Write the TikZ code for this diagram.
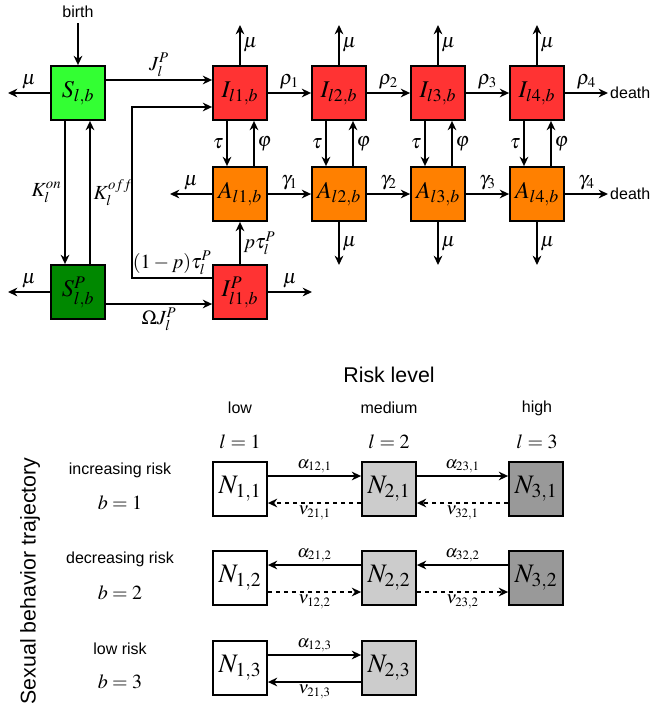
\documentclass[tikz,border=0pt]{standalone}
\usepackage{mathptmx}
\usepackage[no-math]{fontspec}
\setmainfont{Liberation Sans}
\usepackage{xcolor}
\usetikzlibrary{positioning, arrows.meta, calc}

\definecolor{sgreen}{RGB}{51,255,51}
\definecolor{sdkgreen}{RGB}{0,136,0}
\definecolor{ired}{RGB}{255,51,51}
\definecolor{aorange}{RGB}{255,128,0}
\definecolor{nmid}{RGB}{204,204,204}
\definecolor{nhigh}{RGB}{153,153,153}

\begin{document}
\begin{tikzpicture}[x=0.75pt, y=-0.75pt, line width=1.35pt,
  >={Stealth[length=7pt, width=6.5pt]},
  comp/.style={draw, line width=1.35pt, minimum size=40.5pt, inner sep=0pt,
    font=\fontsize{18}{20}\selectfont},
  nbox/.style={comp, font=\fontsize{20}{22}\selectfont},
  lab/.style={font=\fontsize{15}{17}\selectfont, inner sep=2pt},
  slab/.style={font=\fontsize{13}{15}\selectfont, inner sep=1.5pt},
  txt/.style={font=\fontsize{12}{14}\selectfont},
  big/.style={font=\fontsize{16}{18}\selectfont},
  mth/.style={font=\fontsize{15}{17}\selectfont}]
  \useasboundingbox (0,0) rectangle (651,708);

  % Modell: Empfaengliche
  \node[comp, fill=sgreen]   (S)  at (78,93)   {$S_{l,b}$};
  \node[comp, fill=sdkgreen] (SP) at (78,292)  {$S^P_{l,b}$};
  \node[comp, fill=ired]     (IP) at (240,292) {$I^P_{l1,b}$};
  \node[txt] (birth) at (78,12) {birth};

  % Infizierte und ART, vier Stadien
  \foreach \k/\xx in {1/240,2/339,3/438,4/537} {
    \node[comp, fill=ired]    (I\k) at (\xx,93)  {$I_{l\k,b}$};
    \node[comp, fill=aorange] (A\k) at (\xx,194) {$A_{l\k,b}$};
    \coordinate (muI\k) at (\xx,25);
    \draw[->] (I\k) -- node[lab, right] {$\mu$} (muI\k);
    \draw[->] ($(I\k.south)+(-13,0)$) -- node[lab, left] {$\tau$} ($(A\k.north)+(-13,0)$);
    \draw[->] ($(A\k.north)+(14,0)$) -- node[lab, right] {$\varphi$} ($(I\k.south)+(14,0)$);
  }
  \foreach \k in {2,3,4} {
    \coordinate (muA\k) at (A\k |- 0,265);
    \draw[->] (A\k) -- node[lab, right] {$\mu$} (muA\k);
  }
  \foreach \k in {1,2,3} {
    \pgfmathtruncatemacro{\nx}{\k+1}
    \draw[->] (I\k) -- node[lab, above] {$\rho_{\k}$} (I\nx);
    \draw[->] (A\k) -- node[lab, above] {$\gamma_{\k}$} (A\nx);
  }
  \node[txt, anchor=west, inner sep=1pt] (death1) at (608,93)  {death};
  \node[txt, anchor=west, inner sep=1pt] (death2) at (608,194) {death};
  \draw[->] (I4) -- node[lab, above] {$\rho_4$} (death1);
  \draw[->] (A4) -- node[lab, above] {$\gamma_4$} (death2);

  % Sterblichkeit links
  \coordinate (muS)  at (8,93);
  \coordinate (muSP) at (8,292);
  \coordinate (muAl) at (170,194);
  \coordinate (muIP) at (312,292);
  \draw[->] (S)  -- node[lab, above] {$\mu$} (muS);
  \draw[->] (SP) -- node[lab, above] {$\mu$} (muSP);
  \draw[->] (A1) -- node[lab, above] {$\mu$} (muAl);
  \draw[->] (IP) -- node[lab, above] {$\mu$} (muIP);

  % Uebergaenge
  \draw[->] (birth) -- (S);
  \draw[->] ($(S.east)+(0,-13)$) -- node[lab, above] {$J_l^P$} ($(I1.west)+(0,-13)$);
  \draw[->] ($(S.south)+(-13,0)$) -- node[lab, left] {$K_l^{on}$} ($(SP.north)+(-13,0)$);
  \draw[->] ($(SP.north)+(12,0)$) -- node[lab, right] {$K_l^{off}$} ($(S.south)+(12,0)$);
  \draw[->] ($(SP.east)+(0,12)$) -- node[lab, below] {$\Omega J_l^P$} ($(IP.west)+(0,12)$);
  \draw[->] (IP) -- node[lab, right] {$p\tau_l^P$} (A1);
  \draw[->] ($(IP.west)+(0,-14)$) -- node[lab, above, pos=0.5] {$(1-p)\tau_l^P$} ++(-80,0)
    |- ($(I1.west)+(0,14)$);

  % Risikostufen
  \node[big] (risk) at (389,375) {Risk level};
  \node[txt] (low)  at (240,408) {low};
  \node[txt] (med)  at (389,408) {medium};
  \node[txt] (high) at (537,408) {high};
  \node[mth] (l1) at (240,442) {$l=1$};
  \node[mth] (l2) at (389,442) {$l=2$};
  \node[mth] (l3) at (537,442) {$l=3$};

  \node[big, rotate=90] (traj) at (30,581) {Sexual behavior trajectory};
  \node[txt] (inc) at (120,470) {increasing risk};
  \node[mth] (b1)  at (120,503) {$b=1$};
  \node[txt] (dec) at (120,559) {decreasing risk};
  \node[mth] (b2)  at (120,593) {$b=2$};
  \node[txt] (lrk) at (120,649) {low risk};
  \node[mth] (b3)  at (120,682) {$b=3$};

  \node[nbox, fill=white] (N11) at (240,489) {$N_{1,1}$};
  \node[nbox, fill=nmid]  (N21) at (389,489) {$N_{2,1}$};
  \node[nbox, fill=nhigh] (N31) at (536,489) {$N_{3,1}$};
  \node[nbox, fill=white] (N12) at (240,578) {$N_{1,2}$};
  \node[nbox, fill=nmid]  (N22) at (389,578) {$N_{2,2}$};
  \node[nbox, fill=nhigh] (N32) at (536,578) {$N_{3,2}$};
  \node[nbox, fill=white] (N13) at (240,668) {$N_{1,3}$};
  \node[nbox, fill=nmid]  (N23) at (389,668) {$N_{2,3}$};

  % b = 1
  \draw[->] ($(N11.east)+(0,-13)$) -- node[slab, above] {$\alpha_{12,1}$} ($(N21.west)+(0,-13)$);
  \draw[->, dashed] ($(N21.west)+(0,14)$) -- node[slab, below] {$\nu_{21,1}$} ($(N11.east)+(0,14)$);
  \draw[->] ($(N21.east)+(0,-13)$) -- node[slab, above] {$\alpha_{23,1}$} ($(N31.west)+(0,-13)$);
  \draw[->, dashed] ($(N31.west)+(0,14)$) -- node[slab, below] {$\nu_{32,1}$} ($(N21.east)+(0,14)$);
  % b = 2
  \draw[->] ($(N22.west)+(0,-13)$) -- node[slab, above] {$\alpha_{21,2}$} ($(N12.east)+(0,-13)$);
  \draw[->, dashed] ($(N12.east)+(0,14)$) -- node[slab, below] {$\nu_{12,2}$} ($(N22.west)+(0,14)$);
  \draw[->] ($(N32.west)+(0,-13)$) -- node[slab, above] {$\alpha_{32,2}$} ($(N22.east)+(0,-13)$);
  \draw[->, dashed] ($(N22.east)+(0,14)$) -- node[slab, below] {$\nu_{23,2}$} ($(N32.west)+(0,14)$);
  % b = 3
  \draw[->] ($(N13.east)+(0,-13)$) -- node[slab, above] {$\alpha_{12,3}$} ($(N23.west)+(0,-13)$);
  \draw[->] ($(N23.west)+(0,14)$) -- node[slab, below] {$\nu_{21,3}$} ($(N13.east)+(0,14)$);
\end{tikzpicture}
\end{document}
